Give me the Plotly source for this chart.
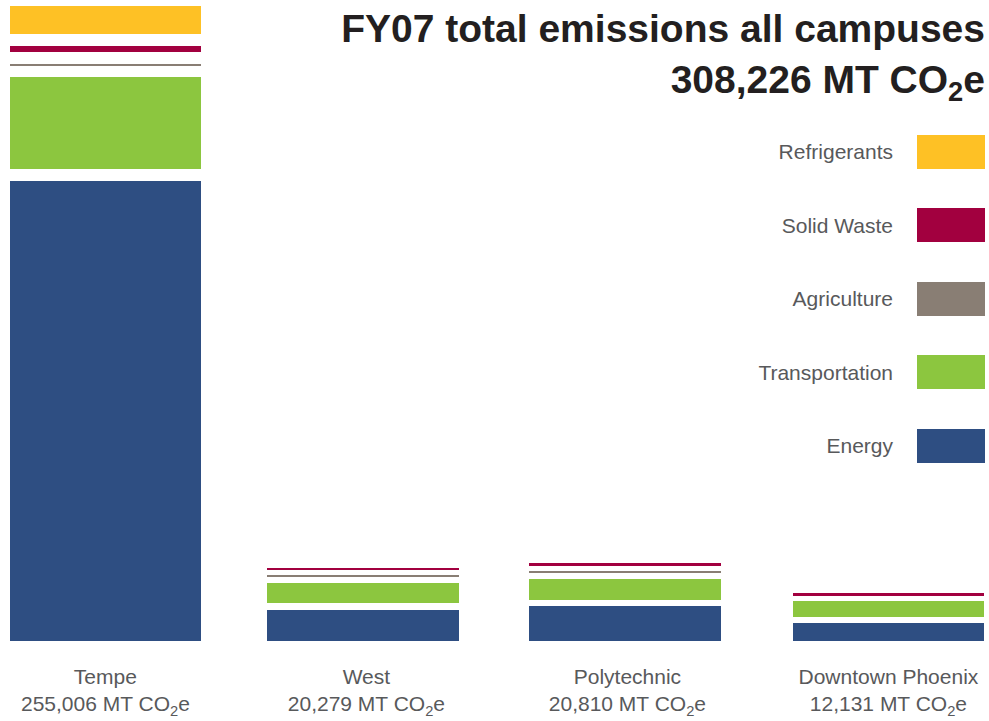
import plotly.graph_objects as go

# ---------------- data ----------------
campuses = ["Tempe", "West", "Polytechnic", "Downtown Phoenix"]
campus_totals = ["255,006", "20,279", "20,810", "12,131"]
grand_total = "308,226"

categories = ["Energy", "Transportation", "Agriculture", "Solid Waste", "Refrigerants"]
energy = [199400, 13440, 15170, 7930]
transportation = [40000, 8670, 8970, 6940]
agriculture = [560, 520, 700, 0]
solid_waste = [2900, 650, 780, 740]
refrigerants = [12146, 0, 0, 0]

# ---------------- style ----------------
colors = {
    "Energy": "#2E4E82",
    "Transportation": "#8CC63F",
    "Agriculture": "#897E74",
    "Solid Waste": "#A2003F",
    "Refrigerants": "#FEC125",
}
FONT = "Liberation Sans, Arial, Helvetica, sans-serif"
LABEL_COLOR = "#58595B"
TITLE_COLOR = "#231F20"

W, H = 989, 721
M_T, M_B = 6, 80
PLOT_H = H - M_T - M_B
UNITS_PER_PX = 255006 / 588.3
gap_px = [11.7, 6.5, 6.2, 5.8]          # white spacing between stacked segments
nudge_px = [0, -3.5, -2.5, 0]           # small horizontal shifts of each bar
PX_PER_CAT = 261.0
BAR_W = 0.7337
Y_MAX = PLOT_H * UNITS_PER_PX

series = [energy, transportation, agriculture, solid_waste, refrigerants]

# compute bases with white gaps between non-zero segments
bases = [[0] * len(campuses) for _ in categories]
for i in range(len(campuses)):
    cum = 0.0
    started = False
    for j, vals in enumerate(series):
        v = vals[i]
        if v > 0:
            if started:
                cum += gap_px[i] * UNITS_PER_PX
            bases[j][i] = cum
            cum += v
            started = True
        else:
            bases[j][i] = cum

offsets = [-BAR_W / 2 + n / PX_PER_CAT for n in nudge_px]

fig = go.Figure()
for j, cat in enumerate(categories):
    fig.add_trace(go.Bar(
        x=campuses, y=series[j], base=bases[j], name=cat,
        marker=dict(color=colors[cat], line=dict(width=0)),
        width=BAR_W, offset=offsets, showlegend=False,
        xaxis="x", yaxis="y",
    ))

# legend drawn as a small horizontal bar chart (labels left of swatches)
legend_order = ["Energy", "Transportation", "Agriculture", "Solid Waste", "Refrigerants"]
fig.add_trace(go.Bar(
    y=legend_order, x=[1] * len(legend_order), orientation="h",
    marker=dict(color=[colors[c] for c in legend_order], line=dict(width=0)),
    width=0.4626, showlegend=False, hoverinfo="skip",
    xaxis="x2", yaxis="y2",
))

def py(pixel_y):
    return (H - M_B - pixel_y) / PLOT_H

tick_text = [f"{c}<br>{t} MT CO<sub>2</sub>e" for c, t in zip(campuses, campus_totals)]

leg_bottom = py(482.75)
leg_top = py(115.25)

fig.update_layout(
    width=W, height=H,
    margin=dict(l=0, r=0, t=M_T, b=M_B, pad=0),
    paper_bgcolor="white", plot_bgcolor="rgba(0,0,0,0)",
    barmode="overlay",
    bargap=0,
    title=dict(
        text=f"FY07 total emissions all campuses<br>{grand_total} MT CO<sub>2</sub>e",
        x=985 / W, xanchor="right", xref="paper",
        y=1 - 42 / H, yanchor="top", yref="container",
        font=dict(family=FONT, size=39, color=TITLE_COLOR, weight="bold"),
    ),
    xaxis=dict(type="category", range=[-0.4038, 3.3854], domain=[0, 1],
               tickmode="array", tickvals=campuses, ticktext=tick_text,
               showticklabels=True, ticklabelstandoff=21,
               tickfont=dict(family=FONT, size=21, color=LABEL_COLOR),
               showgrid=False, zeroline=False, showline=False, ticks=""),
    yaxis=dict(range=[0, Y_MAX], domain=[0, 1], showticklabels=False,
               showgrid=False, zeroline=False, showline=False, ticks=""),
    xaxis2=dict(domain=[917 / W, 985 / W], range=[0, 1], anchor="y2",
                showticklabels=False, showgrid=False, zeroline=False,
                showline=False, ticks=""),
    yaxis2=dict(domain=[leg_bottom, leg_top], anchor="x2", type="category",
                categoryorder="array", categoryarray=legend_order,
                range=[-0.5, 4.5], showgrid=False, zeroline=False,
                showline=False, ticks="", ticklabelstandoff=23,
                tickfont=dict(family=FONT, size=21, color=LABEL_COLOR)),
    font=dict(family=FONT, size=21, color=LABEL_COLOR),
)

fig.write_html("out.html", config={"displayModeBar": False})
